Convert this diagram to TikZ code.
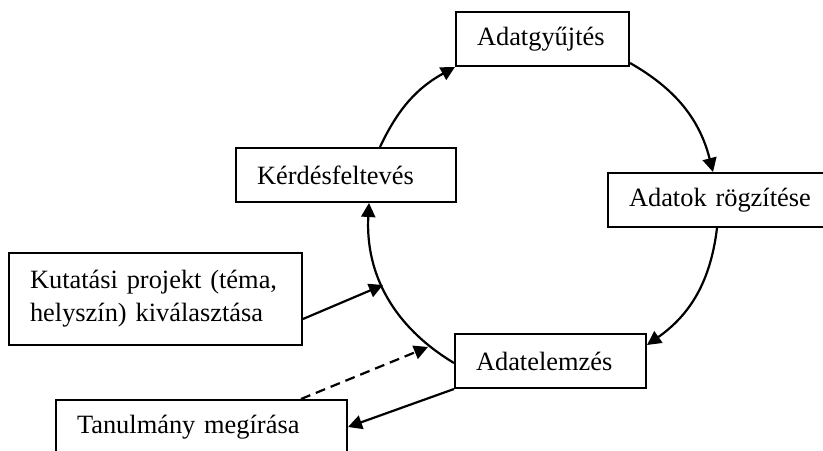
\documentclass[tikz,border=0pt]{standalone}
\usepackage{fontspec}
\setmainfont{Liberation Serif}
\usepackage{tikz}
\usetikzlibrary{arrows.meta,calc}

\begin{document}
\begin{tikzpicture}[x=0.5pt, y=0.5pt,
    box/.style={draw, line width=1pt, align=left, inner xsep=10.5pt, inner ysep=0pt,
        minimum height=27pt, font=\fontsize{13.2}{16.5}\selectfont},
    conn/.style={line width=1.1pt, -{Triangle[length=7pt,width=7pt]}}]
    \clip (0,0) rectangle (823,450);

    % Boxes
    \node[box, text width=65.5pt] (gyujtes) at (542.5,411) {Adatgyűjtés};
    \node[box, text width=89pt] (kerdes) at (346,275) {Kérdésfeltevés};
    \node[box, text width=95pt] (rogzites) at (724,250) {Adatok rögzítése};
    \node[box, text width=74.5pt] (elemzes) at (550.5,89) {Adatelemzés};
    \node[box, text width=125.5pt, minimum height=46pt] (kutatas) at (155.5,151)
        {Kutatási projekt (téma,\\helyszín) kiválasztása};
    \node[box, text width=124.5pt] (tanulmany) at (201.5,23) {Tanulmány megírása};

    % Points on the cycle
    \coordinate (be) at (383,165);
    \coordinate (vissza) at (428,103);

    % Cycle
    \draw[conn] ($(kerdes.north)+(34,0)$) to[bend left=18] (gyujtes.south west);
    \draw[conn] ($(gyujtes.south east)+(0,4)$) to[bend left=23] ($(rogzites.north west)+(106,0)$);
    \draw[conn] ($(rogzites.south west)+(110,0)$) to[bend left=24] ($(elemzes.north east)+(0,-12)$);
    \draw[conn] ($(elemzes.west)+(0,-2)$) to[bend left=31] ($(kerdes.south)+(23,0)$);

    % Outside boxes
    \draw[conn] ($(kutatas.south east)+(0,27)$) -- (be);
    \draw[conn, dash pattern=on 5pt off 3pt] ($(tanulmany.north west)+(246,0)$) -- (vissza);
    \draw[conn] (elemzes.south west) -- (tanulmany.east);
\end{tikzpicture}
\end{document}
